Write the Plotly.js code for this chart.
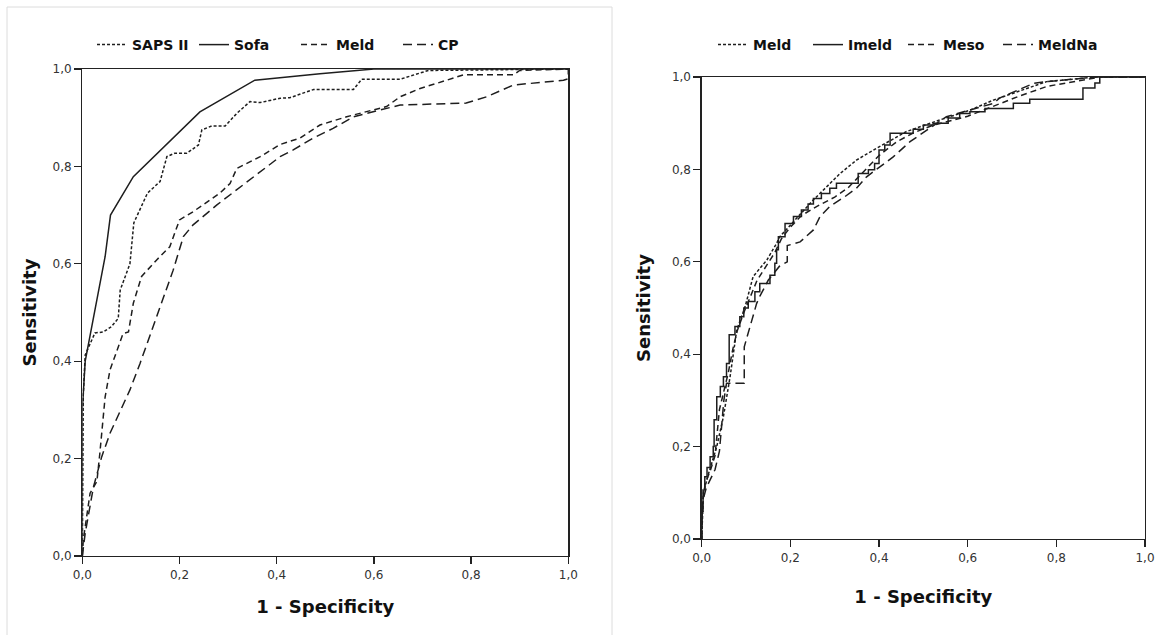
<!DOCTYPE html>
<html>
<head>
<meta charset="utf-8">
<script src="https://cdn.plot.ly/plotly-3.0.1.min.js"></script>
<style>html,body{margin:0;padding:0;background:#fff;}#chart{width:1162px;height:635px;}</style>
</head>
<body>
<div id="chart"></div>
<script>
// ---------- Left panel: ROC curves ----------
const sapsX = [0, 0.002, 0.006, 0.026, 0.043, 0.06, 0.074, 0.078, 0.098, 0.106, 0.134, 0.16, 0.174, 0.19, 0.215, 0.239, 0.246, 0.266, 0.294, 0.318, 0.345, 0.366, 0.407, 0.427, 0.476, 0.558, 0.575, 0.654, 0.712, 1.0];
const sapsY = [0, 0.33, 0.413, 0.458, 0.46, 0.471, 0.488, 0.546, 0.60, 0.684, 0.745, 0.769, 0.82, 0.827, 0.827, 0.844, 0.875, 0.883, 0.883, 0.909, 0.933, 0.931, 0.94, 0.941, 0.958, 0.958, 0.979, 0.979, 0.997, 1.0];

const sofaX = [0, 0, 0.006, 0.03, 0.047, 0.058, 0.105, 0.242, 0.355, 0.489, 0.6, 1.0];
const sofaY = [0, 0.30, 0.40, 0.53, 0.615, 0.70, 0.779, 0.912, 0.977, 0.99, 1.0, 1.0];

const meldLX = [0, 0.002, 0.016, 0.03, 0.036, 0.04, 0.047, 0.057, 0.084, 0.095, 0.105, 0.122, 0.153, 0.18, 0.20, 0.228, 0.283, 0.304, 0.318, 0.366, 0.407, 0.448, 0.489, 0.544, 0.585, 0.626, 0.654, 0.695, 0.75, 0.784, 0.887, 0.90, 1.0];
const meldLY = [0, 0.033, 0.129, 0.153, 0.21, 0.252, 0.327, 0.382, 0.457, 0.46, 0.519, 0.574, 0.608, 0.635, 0.69, 0.707, 0.745, 0.765, 0.796, 0.82, 0.845, 0.858, 0.885, 0.902, 0.912, 0.923, 0.943, 0.96, 0.977, 0.988, 0.988, 0.997, 1.0];

const cpX = [0, 0.006, 0.023, 0.04, 0.057, 0.098, 0.119, 0.16, 0.187, 0.208, 0.228, 0.277, 0.318, 0.366, 0.407, 0.434, 0.475, 0.516, 0.558, 0.613, 0.654, 0.79, 0.832, 0.887, 0.99, 1.0, 1.0];
const cpY = [0, 0.047, 0.142, 0.204, 0.252, 0.341, 0.396, 0.512, 0.587, 0.656, 0.68, 0.721, 0.752, 0.789, 0.82, 0.834, 0.858, 0.878, 0.902, 0.916, 0.926, 0.93, 0.943, 0.967, 0.977, 0.98, 1.0];

// ---------- Right panel: ROC curves ----------
const meldRX = [0, 0.002, 0.004, 0.015, 0.034, 0.049, 0.064, 0.079, 0.098, 0.116, 0.147, 0.169, 0.176, 0.21, 0.252, 0.312, 0.349, 0.395, 0.462, 0.537, 0.605, 0.658, 0.725, 0.778, 0.89, 1.0];
const meldRY = [0, 0.06, 0.1, 0.14, 0.2, 0.265, 0.351, 0.452, 0.503, 0.568, 0.604, 0.64, 0.654, 0.69, 0.734, 0.791, 0.82, 0.846, 0.882, 0.907, 0.928, 0.95, 0.972, 0.99, 1.0, 1.0];

// step corners (horizontal then vertical)
const imeldX = [0, 0, 0.003, 0.007, 0.012, 0.019, 0.026, 0.028, 0.034, 0.042, 0.049, 0.056, 0.062, 0.075, 0.086, 0.095, 0.105, 0.12, 0.131, 0.154, 0.165, 0.169, 0.173, 0.188, 0.207, 0.225, 0.24, 0.252, 0.27, 0.289, 0.304, 0.353, 0.376, 0.39, 0.4, 0.413, 0.425, 0.477, 0.5, 0.522, 0.556, 0.582, 0.605, 0.639, 0.703, 0.74, 0.86, 0.887, 0.898, 1.0];
const imeldY = [0, 0.06, 0.106, 0.135, 0.155, 0.178, 0.2, 0.258, 0.308, 0.33, 0.351, 0.38, 0.442, 0.46, 0.481, 0.5, 0.514, 0.535, 0.553, 0.571, 0.597, 0.626, 0.654, 0.683, 0.698, 0.712, 0.725, 0.737, 0.748, 0.759, 0.77, 0.791, 0.799, 0.813, 0.842, 0.853, 0.878, 0.887, 0.896, 0.9, 0.911, 0.921, 0.925, 0.932, 0.943, 0.952, 0.976, 0.987, 1.0, 1.0];

const mesoX = [0, 0.002, 0.008, 0.02, 0.03, 0.035, 0.04, 0.05, 0.06, 0.07, 0.08, 0.095, 0.11, 0.125, 0.145, 0.165, 0.18, 0.2, 0.225, 0.26, 0.3, 0.33, 0.36, 0.4, 0.44, 0.48, 0.52, 0.56, 0.6, 0.64, 0.68, 0.72, 0.78, 0.84, 0.9, 1.0];
const mesoY = [0, 0.08, 0.12, 0.15, 0.18, 0.23, 0.28, 0.32, 0.36, 0.41, 0.45, 0.49, 0.525, 0.56, 0.59, 0.62, 0.65, 0.675, 0.70, 0.72, 0.74, 0.76, 0.79, 0.83, 0.86, 0.88, 0.895, 0.905, 0.915, 0.93, 0.945, 0.96, 0.98, 0.99, 1.0, 1.0];

const meldNaX = [0, 0.002, 0.01, 0.02, 0.03, 0.04, 0.045, 0.05, 0.056, 0.096, 0.096, 0.109, 0.124, 0.131, 0.15, 0.175, 0.193, 0.193, 0.222, 0.252, 0.267, 0.289, 0.323, 0.349, 0.372, 0.432, 0.47, 0.552, 0.658, 0.673, 0.748, 0.778, 0.89, 1.0];
const meldNaY = [0, 0.08, 0.11, 0.13, 0.15, 0.19, 0.25, 0.3, 0.337, 0.337, 0.416, 0.46, 0.51, 0.525, 0.56, 0.59, 0.60, 0.635, 0.643, 0.669, 0.698, 0.72, 0.741, 0.759, 0.784, 0.827, 0.86, 0.914, 0.943, 0.955, 0.986, 0.99, 1.0, 1.0];

const tickVals = [0, 0.2, 0.4, 0.6, 0.8, 1.0];
const leftNames = ['SAPS II', 'Sofa', 'Meld', 'CP'];
const rightNames = ['Meld', 'Imeld', 'Meso', 'MeldNa'];

const ink = '#1e1e1e';
function tr(x, y, name, dash, xa, ya, leg, shape, lw) {
  const t = {
    type: 'scatter', mode: 'lines', x: x, y: y, name: name,
    xaxis: xa, yaxis: ya, legend: leg,
    line: {color: ink, width: 1.5, dash: dash, shape: shape || 'linear'},
    hoverinfo: 'skip'
  };
  if (lw) t.legendwidth = lw;
  return t;
}

const data = [
  tr(sapsX, sapsY, leftNames[0], '3px,2px', 'x', 'y', 'legend'),
  tr(sofaX, sofaY, leftNames[1], 'solid', 'x', 'y', 'legend'),
  tr(meldLX, meldLY, leftNames[2], '6px,4px', 'x', 'y', 'legend'),
  tr(cpX, cpY, leftNames[3], '9px,5px', 'x', 'y', 'legend'),
  tr(meldRX, meldRY, rightNames[0], '3px,2px', 'x2', 'y2', 'legend2'),
  tr(imeldX, imeldY, rightNames[1], 'solid', 'x2', 'y2', 'legend2', 'hv'),
  tr(mesoX, mesoY, rightNames[2], '6px,4px', 'x2', 'y2', 'legend2'),
  tr(meldNaX, meldNaY, rightNames[3], '9px,5px', 'x2', 'y2', 'legend2', null, 70)
];

const W = 1162, H = 635;
const tickFont = {family: 'DejaVu Sans', size: 12, color: '#333'};
const titleFont = {family: 'DejaVu Sans', size: 18, color: '#111', weight: 'bold'};
function xax(domain, anchor, standoff) {
  return {
    domain: domain, anchor: anchor, range: [0, 1], tickvals: tickVals, tickformat: '.1f',
    ticks: 'outside', ticklen: 7, tickcolor: '#222', tickwidth: 1.3,
    showgrid: false, zeroline: false, showline: true, mirror: true,
    linecolor: '#222', linewidth: 1.3, tickfont: tickFont, fixedrange: true,
    title: {text: '1 - Specificity', font: titleFont, standoff: standoff}
  };
}
function yax(domain, anchor, standoff) {
  return {
    domain: domain, anchor: anchor, range: [0, 1], tickvals: tickVals, tickformat: '.1f',
    ticks: 'outside', ticklen: 7, tickcolor: '#222', tickwidth: 1.3,
    showgrid: false, zeroline: false, showline: true, mirror: true,
    linecolor: '#222', linewidth: 1.3, tickfont: tickFont, fixedrange: true,
    title: {text: 'Sensitivity', font: titleFont, standoff: standoff}
  };
}
const legendBase = {
  orientation: 'h', yanchor: 'middle', xanchor: 'left',
  font: {family: 'DejaVu Sans', size: 14, color: '#111', weight: 'bold'},
  bgcolor: 'rgba(0,0,0,0)', borderwidth: 0, tracegroupgap: 0
};

const layout = {
  width: W, height: H,
  margin: {l: 0, r: 0, t: 0, b: 0, pad: 0},
  paper_bgcolor: '#fff', plot_bgcolor: '#fff',
  separators: ',.',
  showlegend: true,
  xaxis: xax([82.3 / W, 568.3 / W], 'y', 19),
  yaxis: yax([(H - 556) / H, (H - 69) / H], 'x', 11),
  xaxis2: xax([701.7 / W, 1145 / W], 'y2', 26),
  yaxis2: yax([(H - 539) / H, (H - 77) / H], 'x2', 16),
  legend: Object.assign({}, legendBase, {x: 92 / W, y: 1 - 45 / H, entrywidth: 57}),
  legend2: Object.assign({}, legendBase, {x: 713 / W, y: 1 - 45 / H, entrywidth: 50}),
  shapes: [{
    type: 'rect', xref: 'paper', yref: 'paper',
    x0: 7 / W, x1: 612 / W, y0: -0.05, y1: 1 - 7 / H,
    line: {color: '#dcdcdc', width: 1}, layer: 'below'
  }]
};

Plotly.newPlot('chart', data, layout, {displayModeBar: false, staticPlot: true});
</script>
</body>
</html>
